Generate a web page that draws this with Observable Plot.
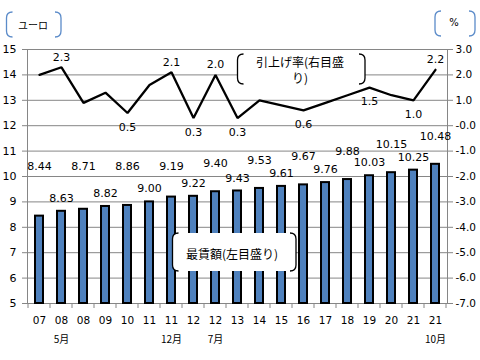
<!DOCTYPE html>
<html><head><meta charset="utf-8">
<script src="https://cdn.jsdelivr.net/npm/d3@7"></script>
<script src="https://cdn.jsdelivr.net/npm/@observablehq/plot@0.6"></script>
<style>body{margin:0;background:#fff}#chart{width:480px;height:360px}</style>
</head><body><div id="chart"></div>
<script>
// ---- data ----
const years = ["07","08","08","09","10","11","11","12","12","13","14","15","16","17","18","19","20","21","21"];
const months = ["","5月","","","","","12月","","7月","","","","","","","","","","10月"];
const wages = [8.44,8.63,8.71,8.82,8.86,9.00,9.19,9.22,9.40,9.43,9.53,9.61,9.67,9.76,9.88,10.03,10.15,10.25,10.48];
const rates = [2.0,2.3,0.9,1.3,0.5,1.6,2.1,0.3,2.0,0.3,1.0,0.8,0.6,0.9,1.2,1.5,1.2,1.0,2.2];
const rateLabelIdx = [1,4,6,7,8,9,12,15,17,18];
const leftTicks = [5,6,7,8,9,10,11,12,13,14,15];
const rightTicks = [-7,-6,-5,-4,-3,-2,-1,0,1,2,3];
const leftUnit = "ユーロ";
const rightUnit = "%";
const rateNote = ["引上げ率(右目盛", "り)"];
const wageNote = "最賃額(左目盛り)";

// ---- helpers ----
const toLeft = d3.scaleLinear([-7, 3], [5, 15]);
const idx = d3.range(years.length);
const num = "'DejaVu Sans', sans-serif";
const jp = "'Noto Sans CJK JP', sans-serif";
const high = i => rates[i] >= 2;
const grid = "#868686";

function bracketBox(g, x0, y0, x1, y1, color, fill) {
  const r = 6;
  if (fill) g.append("rect").attr("x", x0).attr("y", y0).attr("width", x1-x0).attr("height", y1-y0)
    .attr("rx", r).attr("fill", fill);
  g.append("path").attr("fill","none").attr("stroke",color).attr("stroke-width",1.3)
    .attr("d", `M${x0+r},${y0}Q${x0},${y0} ${x0},${y0+r}L${x0},${y1-r}Q${x0},${y1} ${x0+r},${y1}` +
               `M${x1-r},${y0}Q${x1},${y0} ${x1},${y0+r}L${x1},${y1-r}Q${x1},${y1} ${x1-r},${y1}`);
}
function label(g, x, y, t, size, family) {
  g.append("text").attr("x", x).attr("y", y).attr("text-anchor","middle")
    .attr("dominant-baseline","central").attr("font-size", size).attr("font-family", family)
    .attr("fill","#000").text(t);
}

// x tick marks at band boundaries
function xTicks(index, scales) {
  const x = scales.x, bw = x.bandwidth(), step = x(1) - x(0);
  const g = d3.create("svg:g").attr("stroke", grid);
  const y0 = scales.y(5);
  for (let i = 0; i <= years.length; i++) {
    const bx = (i < years.length ? x(i) + bw/2 - step/2 : x(years.length-1) + bw/2 + step/2);
    g.append("line").attr("x1", bx).attr("x2", bx).attr("y1", y0).attr("y2", y0 + 5);
  }
  return g.node();
}
function notes() {
  const g = d3.create("svg:g");
  bracketBox(g, 6.5, 12, 61, 37, "#5B8BC9", null);
  label(g, 33, 24, leftUnit, 10, jp);
  bracketBox(g, 435, 11, 475, 36, "#5B8BC9", null);
  label(g, 454, 22, rightUnit, 10, num);
  bracketBox(g, 237.5, 54, 365, 84, "#000", "#fff");
  label(g, 300, 61.5, rateNote[0], 12, jp);
  label(g, 300, 77, rateNote[1], 12, jp);
  bracketBox(g, 172.5, 233, 296, 271, "#000", "#fff");
  label(g, 232, 253, wageNote, 12, jp);
  return g.node();
}

const chart = Plot.plot({
  width: 480, height: 360,
  marginTop: 49, marginBottom: 57, marginLeft: 27, marginRight: 33,
  style: {fontFamily: num, fontSize: "10px", color: "#000", background: "#fff"},
  x: {type: "band", domain: idx, paddingInner: 0.62, paddingOuter: 0.31, axis: null},
  y: {domain: [5, 15], axis: null},
  marks: [
    Plot.ruleY(leftTicks, {stroke: grid, strokeWidth: 1}),
    Plot.frame({stroke: grid}),
    Plot.axisY({ticks: leftTicks, tickSize: 5, tickPadding: 6, stroke: grid, fill: "#000", fontSize: 11, tickFormat: d => d}),
    Plot.axisY({anchor: "right", ticks: rightTicks.map(toLeft), tickSize: 5, tickPadding: 3, stroke: grid, fill: "#000", fontSize: 10.5,
      tickFormat: d => toLeft.invert(d).toFixed(1)}),
    Plot.axisX({tickSize: 0, tickPadding: 13, fontSize: 10.5, tickFormat: i => years[i]}),
    Plot.axisX({tickSize: 0, tickPadding: 32, fontSize: 10, fontFamily: jp, tickFormat: i => months[i]}),
    xTicks,
    Plot.barY(idx, {x: i => i, y1: 5, y2: i => wages[i], fill: "#4F81BD", stroke: "#000", strokeWidth: 2}),
    Plot.line(idx, {x: i => i, y: i => toLeft(rates[i]), stroke: "#000", strokeWidth: 2.3, strokeLinejoin: "miter"}),
    Plot.text(idx.filter(i => i % 2 === 1), {x: i => i, y: i => wages[i], text: i => wages[i].toFixed(2), dy: -13, fontSize: 11}),
    Plot.text(idx.filter(i => i % 2 === 0), {x: i => i, y: i => Math.max(10.4, wages[i] + 1.1), text: i => wages[i].toFixed(2), fontSize: 11}),
    Plot.text(rateLabelIdx.filter(high), {x: i => i, y: i => toLeft(rates[i]), text: i => rates[i].toFixed(1), dy: -10, fontSize: 11}),
    Plot.text(rateLabelIdx.filter(i => !high(i)), {x: i => i, y: i => toLeft(rates[i]), text: i => rates[i].toFixed(1), dy: 14, fontSize: 11}),
    notes
  ]
});
document.getElementById("chart").append(chart);
</script>
</body></html>
